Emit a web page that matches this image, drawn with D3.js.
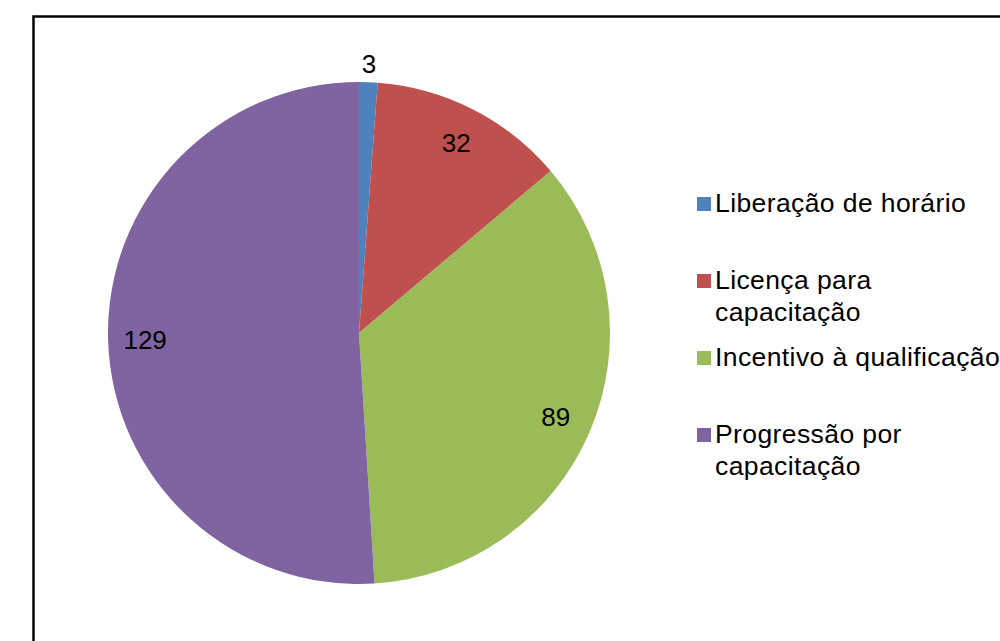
<!DOCTYPE html>
<html>
<head>
<meta charset="utf-8">
<script src="https://cdn.jsdelivr.net/npm/d3@7"></script>
<style>
html,body{margin:0;padding:0;background:#fff;overflow:hidden;}
svg{display:block;}
text{font-family:"Liberation Sans",Arial,sans-serif;}
</style>
</head>
<body>
<svg id="chart" width="1000" height="641"></svg>
<script>
const categories = ["Liberação de horário", "Licença para capacitação", "Incentivo à qualificação", "Progressão por capacitação"];
const legendLines = [["Liberação de horário"], ["Licença para", "capacitação"], ["Incentivo à qualificação"], ["Progressão por", "capacitação"]];
const values = [3, 32, 89, 129];
const colors = ["#4F81BD", "#C0504D", "#9BBB59", "#8064A2"];

const svg = d3.select("#chart");
const W = 1000, H = 641;

// outer frame (extends beyond the right and bottom edge)
svg.append("path")
  .attr("d", `M33.5,${H + 5} L33.5,16.5 L${W + 5},16.5`)
  .attr("fill", "none").attr("stroke", "#000").attr("stroke-width", 2.5);

const cx = 359, cy = 333, r = 251;
const g = svg.append("g").attr("transform", `translate(${cx},${cy})`);

const pie = d3.pie().sort(null).value(d => d)(values);
const arc = d3.arc().innerRadius(0).outerRadius(r);
const inLabel = d3.arc().innerRadius(214).outerRadius(214);
const outLabel = d3.arc().innerRadius(270).outerRadius(270);

g.selectAll("path.slice").data(pie).enter().append("path")
  .attr("class", "slice")
  .attr("d", arc)
  .attr("fill", (d, i) => colors[i]);

g.selectAll("text.lbl").data(pie).enter().append("text")
  .attr("class", "lbl")
  .attr("transform", d => {
    const small = (d.endAngle - d.startAngle) < 0.2;
    const p = (small ? outLabel : inLabel).centroid(d);
    return `translate(${p[0]},${p[1]})`;
  })
  .attr("text-anchor", "middle")
  .attr("dy", "0.36em")
  .attr("font-size", 26)
  .attr("fill", "#000")
  .text(d => d.data);

// legend
const legendBaselines = [[212], [289, 321], [366], [443, 475]];
const lg = svg.append("g");
categories.forEach((c, i) => {
  const b = legendBaselines[i];
  lg.append("rect")
    .attr("x", 697).attr("y", b[0] - 15)
    .attr("width", 14).attr("height", 14)
    .attr("fill", colors[i]);
  legendLines[i].forEach((line, j) => {
    lg.append("text")
      .attr("x", 715).attr("y", b[j])
      .attr("font-size", 26.5)
      .attr("letter-spacing", 0.4)
      .attr("fill", "#000")
      .text(line);
  });
});
</script>
</body>
</html>
